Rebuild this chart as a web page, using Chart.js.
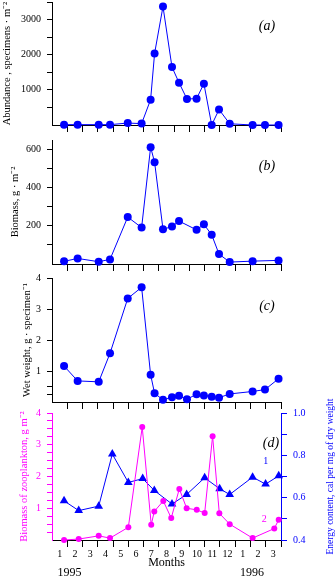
<!DOCTYPE html>
<html>
<head>
<meta charset="utf-8">
<title>Seasonal dynamics, 1995-1996</title>
<script src="https://cdn.jsdelivr.net/npm/chart.js@4.4.1/dist/chart.umd.min.js"></script>
<style>
    html, body { margin: 0; padding: 0; background: #fff; }
    #page { position: relative; width: 336px; height: 580px; overflow: hidden; }
    #page canvas { position: absolute; left: 0; }
</style>
</head>
<body>
<div id="page">
    <canvas id="abundanceChart" width="336" height="150" style="top:-10px"></canvas>
    <canvas id="biomassChart" width="336" height="150" style="top:128px"></canvas>
    <canvas id="weightChart" width="336" height="150" style="top:266px"></canvas>
    <canvas id="zooChart" width="336" height="197" style="top:383px"></canvas>
</div>
<script>
// sampling dates, in months counted from the start of January 1995
const sampleMonths = [0.79, 1.68, 3.06, 3.80, 4.96, 5.87, 6.46, 6.72, 7.27, 7.86, 8.32, 8.84, 9.47, 9.95, 10.46, 10.94, 11.64, 13.14, 13.95, 14.84];
const abundance = [10, 10, 10, 10, 55, 40, 722, 2037, 3370, 1648, 1204, 740, 750, 1176, 0, 440, 35, 0, 0, 0];
const wetWeight = [1.16, 0.68, 0.65, 1.57, 3.34, 3.70, 0.88, 0.28, 0.07, 0.15, 0.20, 0.09, 0.25, 0.21, 0.17, 0.14, 0.26, 0.34, 0.40, 0.75];

const biomassMonths = [0.79, 1.68, 3.06, 3.80, 4.96, 5.87, 6.46, 6.72, 7.27, 7.86, 8.32, 9.47, 9.95, 10.46, 10.94, 11.64, 13.14, 14.84];
const biomass = [14, 29, 12, 24, 246, 191, 612, 534, 182, 196, 225, 179, 208, 153, 52, 10, 15, 19];

const zooMonths = [0.79, 1.75, 3.06, 3.80, 5.00, 5.91, 6.50, 6.70, 7.29, 7.81, 8.34, 8.82, 9.48, 10.00, 10.52, 10.96, 11.64, 13.14, 14.56, 14.85];
const zooBiomass = [0.00, 0.03, 0.13, 0.06, 0.40, 3.56, 0.48, 0.90, 1.23, 0.69, 1.61, 1.00, 0.95, 0.85, 3.27, 0.84, 0.50, 0.06, 0.36, 0.64];

const energyMonths = [0.79, 1.75, 3.06, 3.95, 5.00, 5.94, 6.70, 7.86, 8.82, 10.00, 10.98, 11.64, 13.14, 13.99, 14.85];
const energy = [0.585, 0.539, 0.560, 0.806, 0.672, 0.690, 0.634, 0.570, 0.615, 0.694, 0.642, 0.615, 0.697, 0.664, 0.703];

// month names under the time axis (Jan 1995 .. Mar 1996)
const monthLabels = ["1", "2", "3", "4", "5", "6", "7", "8", "9", "10", "11", "12", "1", "2", "3"];

const abundanceTicks = [500, 1000, 1500, 2000, 2500, 3000, 3500];
const biomassTicks = [100, 200, 300, 400, 500, 600];
const weightTicks = [0.25, 0.5, 1, 2, 3, 4];
const zooTicks = [0.25, 0.5, 0.75, 1, 1.25, 1.5, 1.75, 2, 2.25, 2.5, 2.75, 3, 3.25, 3.5, 3.75, 4];
const energyTicks = [0.4, 0.5, 0.6, 0.7, 0.8, 0.9, 1.0];

const BLUE = "#0000ff";
const PINK = "#ff00ff";
const SERIF = "'Liberation Serif', 'Times New Roman', serif";

Chart.defaults.font.family = SERIF;
Chart.defaults.font.size = 10;
Chart.defaults.color = "#000";

// free text: panel letters, curve numbers, years, right-hand axis title
const notesPlugin = {
    id: "notes",
    afterDraw(chart, args, opts) {
        const ctx = chart.ctx;
        const xs = chart.scales.x;
        const ys = chart.scales.y;
        (opts.items || []).forEach(item => {
            ctx.save();
            ctx.font = item.font;
            ctx.fillStyle = item.color || "#000";
            ctx.textAlign = "center";
            ctx.textBaseline = "middle";
            const py = item.below !== undefined ? chart.chartArea.bottom + item.below : ys.getPixelForValue(item.y);
            ctx.fillText(item.text, xs.getPixelForValue(item.x), py);
            ctx.restore();
        });
        if (opts.sideTitle) {
            const t = opts.sideTitle;
            const area = chart.chartArea;
            ctx.save();
            ctx.font = t.font;
            ctx.fillStyle = t.color;
            ctx.textAlign = "center";
            ctx.textBaseline = "middle";
            ctx.translate(chart.width - t.inset, (area.top + area.bottom) / 2);
            ctx.rotate(-Math.PI / 2);
            ctx.fillText(t.text, 0, 0, t.maxWidth);
            ctx.restore();
        }
    }
};

function monthAxis(showLabels) {
    const values = [];
    for (let i = 0; i < monthLabels.length; i++) {
        if (showLabels) values.push(i + 0.5);
        values.push(i + 1);
    }
    return {
        type: "linear",
        min: 0,
        max: monthLabels.length,
        afterBuildTicks: scale => { scale.ticks = values.map(v => ({ value: v })); },
        afterFit: scale => { scale.height = showLabels ? 36 : 8; },
        border: { color: "#000" },
        grid: {
            drawOnChartArea: false,
            tickLength: 7,
            color: c => (c.tick && Number.isInteger(c.tick.value)) ? "#000" : "rgba(0,0,0,0)"
        },
        ticks: {
            display: showLabels,
            autoSkip: false,
            maxRotation: 0,
            padding: 1,
            font: { size: 10 },
            callback: v => Number.isInteger(v) ? "" : monthLabels[Math.floor(v)]
        },
        title: {
            display: showLabels,
            text: "Months",
            font: { size: 12 },
            padding: { top: 0, bottom: 6 }
        }
    };
}

function valueAxis(o) {
    return {
        type: "linear",
        position: o.position || "left",
        min: o.min || 0,
        max: o.max,
        afterBuildTicks: scale => { scale.ticks = o.ticks.map(v => ({ value: v })); },
        afterFit: scale => { scale.width = o.width; },
        border: { color: o.color },
        grid: { drawOnChartArea: false, tickLength: o.tickLength || 5, color: o.color },
        ticks: {
            color: o.color,
            padding: 6,
            autoSkip: false,
            font: { size: 10 },
            callback: o.format
        },
        title: {
            display: !!o.title,
            text: o.title,
            color: o.color,
            font: { size: 10.5 },
            padding: { top: o.titlePad || 0, bottom: 0 }
        }
    };
}

function circles(months, values, color, radius, axisId) {
    return {
        data: months.map((m, i) => ({ x: m, y: values[i] })),
        yAxisID: axisId || "y",
        borderColor: color,
        backgroundColor: color,
        borderWidth: 1,
        pointRadius: radius,
        pointBorderWidth: 0,
        pointHoverRadius: radius,
        clip: false
    };
}

function baseOptions(scales, notes, topPad, bottomPad, rightPad) {
    return {
        responsive: false,
        animation: false,
        layout: { padding: { top: topPad, left: 0, right: rightPad, bottom: bottomPad } },
        scales: scales,
        plugins: {
            legend: { display: false },
            tooltip: { enabled: false },
            notes: notes
        }
    };
}

const panelFont = "italic 14px " + SERIF;

// (a) abundance
new Chart(document.getElementById("abundanceChart"), {
    type: "line",
    data: { datasets: [circles(sampleMonths, abundance, BLUE, 4)] },
    options: baseOptions({
        x: monthAxis(false),
        y: valueAxis({
            max: 3500, ticks: abundanceTicks, width: 52, color: "#000", titlePad: 0.5,
            title: "Abundance , specimens · m⁻²",
            format: v => (v % 1000 === 0 ? String(v) : "")
        })
    }, { items: [{ text: "(a)", x: 14.08, y: 2800, font: panelFont }] }, 10, 7, 55),
    plugins: [notesPlugin]
});

// (b) biomass
new Chart(document.getElementById("biomassChart"), {
    type: "line",
    data: { datasets: [circles(biomassMonths, biomass, BLUE, 4)] },
    options: baseOptions({
        x: monthAxis(false),
        y: valueAxis({
            max: 650, ticks: biomassTicks, width: 52, color: "#000", titlePad: 8.5,
            title: "Biomass, g · m⁻²",
            format: v => (v % 200 === 0 ? String(v) : "")
        })
    }, { items: [{ text: "(b)", x: 14.08, y: 511, font: panelFont }] }, 10, 6, 55),
    plugins: [notesPlugin]
});

// (c) individual wet weight
new Chart(document.getElementById("weightChart"), {
    type: "line",
    data: { datasets: [circles(sampleMonths, wetWeight, BLUE, 4)] },
    options: baseOptions({
        x: monthAxis(false),
        y: valueAxis({
            max: 4, ticks: weightTicks, width: 52, color: "#000", titlePad: 20.5,
            title: "Wet weight, g · specimen⁻¹",
            format: v => (Number.isInteger(v) ? String(v) : "")
        })
    }, { items: [{ text: "(c)", x: 14.08, y: 3.08, font: panelFont }] }, 10, 6, 55),
    plugins: [notesPlugin]
});

// (d) zooplankton biomass (curve 2) and energy content (curve 1)
const energySet = circles(energyMonths, energy, BLUE, 5, "y1");
energySet.pointStyle = "triangle";

new Chart(document.getElementById("zooChart"), {
    type: "line",
    data: { datasets: [circles(zooMonths, zooBiomass, PINK, 3), energySet] },
    options: baseOptions({
        x: monthAxis(true),
        y: valueAxis({
            max: 4, ticks: zooTicks, width: 52, color: PINK, titlePad: 18,
            title: "Biomass of zooplankton, g m⁻²",
            format: v => (Number.isInteger(v) ? String(v) : "")
        }),
        y1: valueAxis({
            position: "right", min: 0.4, max: 1.0, ticks: energyTicks, width: 55, color: BLUE, tickLength: 6,
            format: v => (Math.round(v * 10) % 2 === 0 ? v.toFixed(1) : "")
        })
    }, {
        items: [
            { text: "(d)", x: 14.34, y: 3.06, font: panelFont },
            { text: "1", x: 14.0, y: 2.47, font: "10px " + SERIF, color: BLUE },
            { text: "2", x: 13.9, y: 0.66, font: "10px " + SERIF, color: PINK },
            { text: "1995", x: 1.15, below: 33, font: "12px " + SERIF },
            { text: "1996", x: 13.1, below: 33, font: "12px " + SERIF }
        ],
        sideTitle: { text: "Energy content, cal per mg of dry weight", font: "9.5px " + SERIF, color: BLUE, inset: 6, maxWidth: 162 }
    }, 30, 4, 0),
    plugins: [notesPlugin]
});
</script>
</body>
</html>
